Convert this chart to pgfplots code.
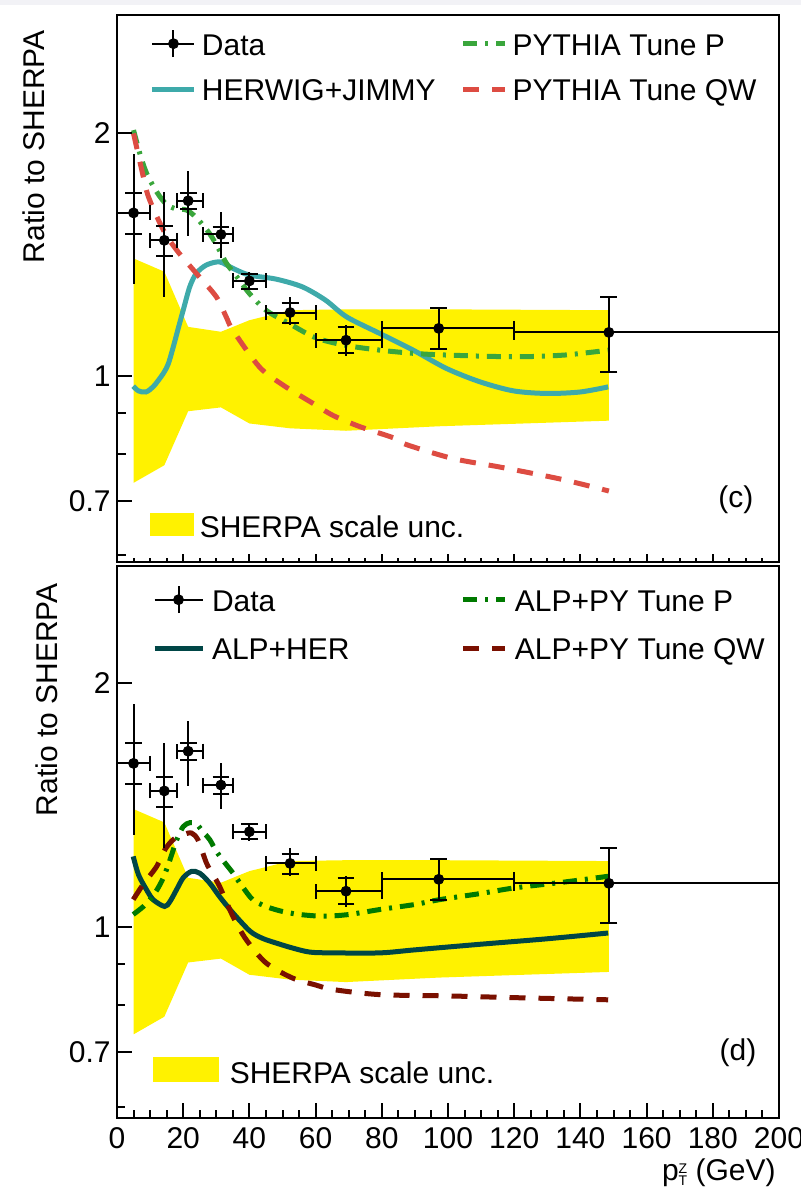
\documentclass[border=0pt]{standalone}
\usepackage{fontspec}
\setmainfont{Liberation Sans}
\usepackage{pgfplots}
\usepackage{pgfplotstable}
\pgfplotsset{compat=1.18}

\definecolor{herwig}{RGB}{62,170,170}
\definecolor{pytp}{RGB}{58,166,60}
\definecolor{pytqw}{RGB}{221,76,66}
\definecolor{alpher}{RGB}{0,70,70}
\definecolor{alpp}{RGB}{0,122,0}
\definecolor{alpqw}{RGB}{122,16,0}
\definecolor{edgegray}{RGB}{242,242,246}

% data: bin centre, ratio, x half-widths, stat (+,-), total (+,-)
\pgfplotstableread{
x y xm xp sp sm tp tm
5     1.592 5    5    0.094 0.091 0.294 0.293
14.3  1.472 4.3  3.7  0.061 0.065 0.216 0.221
21.5  1.648 3.5  4.5  0.038 0.040 0.147 0.157
31.4  1.497 5.4  3.6  0.033 0.038 0.097 0.099
40    1.311 5    5    0.028 0.028 0.033 0.033
52.3  1.198 7.3  7.7  0.034 0.035 0.055 0.042
69.2  1.107 9.2  10.8 0.041 0.041 0.049 0.049
97.2  1.145 17.2 22.8 0.069 0.066 0.069 0.066
148.6 1.132 28.6 51.4 0.121 0.120 0.121 0.120
}\datatab

% SHERPA scale band outline: upper edge forward, lower edge back
\pgfplotstableread{
x y
5     1.398
14.3  1.346
21.5  1.150
31.4  1.134
40    1.172
52.3  1.206
69.2  1.209
97.2  1.209
148.6 1.206
148.6 0.880
97.2  0.866
69.2  0.855
52.3  0.861
40    0.873
31.4  0.914
21.5  0.904
14.3  0.775
5     0.737
}\bandtab

\pgfplotstableread{
x y
4.9 0.971
6.5 0.958
8.7 0.955
11 0.970
14 1.007
15.5 1.035
17 1.086
18.5 1.145
20 1.206
22 1.290
24 1.340
27 1.372
31 1.384
35 1.359
40 1.333
48 1.318
56 1.289
63 1.241
69.4 1.183
79.5 1.128
89.5 1.076
99.6 1.021
109.7 0.983
119.8 0.958
129.9 0.951
139.9 0.955
148.4 0.969
}\herwigtab

\pgfplotstableread{
x y
5 2.016
7 1.880
9 1.780
12 1.690
15 1.630
18 1.610
21 1.605
24 1.570
28 1.500
31 1.430
33 1.380
36 1.330
40 1.265
45 1.206
52 1.161
60 1.115
69 1.091
79.5 1.076
90 1.066
100 1.061
120 1.056
135 1.061
148.4 1.076
}\pytptab

\pgfplotstableread{
x y
5 1.997
7.5 1.798
9.5 1.667
14 1.516
18 1.432
24 1.339
30 1.253
33 1.183
35 1.139
43 1.026
50 0.975
59.3 0.924
65.3 0.893
73.4 0.865
83.5 0.838
87.4 0.822
101.5 0.790
115.7 0.771
134 0.745
148.6 0.720
}\pytqwtab

\pgfplotstableread{
x y
4.9 1.222
6.5 1.160
8.9 1.112
11 1.080
14.4 1.060
16 1.075
18 1.112
20 1.150
22.5 1.171
25 1.165
28 1.133
31 1.090
35 1.041
40.2 0.988
44 0.968
48.2 0.955
53 0.942
58.3 0.931
65.3 0.929
79.5 0.929
90 0.937
109.7 0.952
130 0.967
148.4 0.983
}\alphertab

\pgfplotstableread{
x y
4.9 1.036
8 1.060
10 1.081
12 1.110
14 1.150
16 1.210
18 1.280
20 1.330
22 1.345
24 1.340
26 1.310
28 1.282
30 1.240
32.6 1.200
35 1.166
38 1.120
41 1.081
45 1.060
50 1.045
55.3 1.036
62.4 1.031
70 1.036
79.5 1.051
90 1.066
97.6 1.081
110 1.100
119.8 1.117
135 1.136
148.4 1.155
}\alpptab

\pgfplotstableread{
x y
4.9 1.081
8 1.130
12 1.188
14.5 1.246
17 1.282
20 1.300
22.5 1.306
24.5 1.280
27 1.200
29 1.160
31 1.122
35 1.031
39 0.965
45 0.903
53 0.865
60 0.848
65.3 0.837
79.5 0.825
100 0.822
120 0.818
148.4 0.813
}\alpqwtab

\newcommand{\fs}{\fontsize{15}{18}\selectfont}
\newcommand{\ptz}{p\rlap{\raisebox{3.4pt}{\fontsize{7}{8}\selectfont Z}}\raisebox{-2.6pt}{\fontsize{7}{8}\selectfont T}}

\begin{document}
\fs
\begin{tikzpicture}
\fill[edgegray] (-58.5pt,556.5pt) rectangle (342pt,559pt);
% ---------- top panel (c) ----------
\begin{axis}[
  scale only axis, width=331pt, height=273.5pt,
  at={(0,278pt)}, anchor=south west,
  xmin=0, xmax=200, ymode=log, ymin=0.588, ymax=2.80,
  xtick={0,20,40,60,80,100,120,140,160,180,200}, minor x tick num=3, xticklabels={},
  ytick={0.7,1,2}, yticklabels={0.7,1,2}, minor ytick={0.6,0.8,0.9},
  xtick pos=left, ytick pos=left, tick align=inside,
  major tick length=4pt, minor tick length=2pt,
  axis line style={line width=1.2pt},
  tick style={line width=1pt, black},
  yticklabel style={font=\fs, inner sep=3pt},
  ylabel={Ratio to SHERPA},
  ylabel style={font=\fs, at={(axis description cs:-0.1088,0.9726)}, anchor=base east, inner sep=0pt},
  legend columns=2, legend cell align=left,
  legend style={at={(axis description cs:0.0498,0.9653)}, anchor=north west,
    draw=none, fill=none, inner sep=0pt, outer sep=0pt, font=\fs, row sep=12pt,
    nodes={inner sep=0pt, text height=10.7pt, text depth=0pt},
    /tikz/every odd column/.append style={column sep=2.5pt},
    /tikz/every even column/.append style={column sep=12.5pt}},
]
\addplot[fill=yellow, draw=none, forget plot] table[x=x, y=y] {\bandtab};

\addplot[forget plot, herwig, line width=2.5pt, smooth] table[x=x,y=y] {\herwigtab};
\addplot[forget plot, pytp, line width=2.5pt, smooth, dash pattern=on 7pt off 4pt on 1.5pt off 4pt] table[x=x,y=y] {\pytptab};
\addplot[forget plot, pytqw, line width=2.5pt, smooth, dash pattern=on 8pt off 6.5pt] table[x=x,y=y] {\pytqwtab};

\addplot[forget plot, black, only marks, mark=none,
  error bars/.cd, x dir=both, x explicit,
  error bar style={line width=1pt, black},
  error mark options={rotate=90, mark size=3.75pt, line width=1pt, black}]
  table[x=x, y=y, x error plus=xp, x error minus=xm] {\datatab};
\addplot[forget plot, black, only marks, mark=none,
  error bars/.cd, y dir=both, y explicit, error mark=none,
  error bar style={line width=1pt, black}]
  table[x=x, y=y, y error plus=tp, y error minus=tm] {\datatab};
\addplot[forget plot, black, only marks, mark=*, mark size=2.5pt,
  error bars/.cd, y dir=both, y explicit,
  error bar style={line width=1pt, black},
  error mark options={rotate=90, mark size=4.2pt, line width=1pt, black}]
  table[x=x, y=y, y error plus=sp, y error minus=sm] {\datatab};

\addlegendimage{black, legend image code/.code={%
    \draw[black, line width=1pt, overlay] (0pt,0.5pt)--(21pt,0.5pt) (10.5pt,-6.2pt)--(10.5pt,7.2pt);
    \fill[black, overlay] (10.5pt,0.5pt) circle (2.5pt);
    \path (0pt,0.5pt) (21pt,0.5pt);}}
\addlegendentry{Data}
\addlegendimage{pytp, line width=2.5pt, dash pattern=on 7pt off 4pt on 1.5pt off 4pt,
  legend image code/.code={\draw[overlay] (0pt,0.5pt)--(21pt,0.5pt); \path (0pt,0.5pt) (21pt,0.5pt);}}
\addlegendentry{PYTHIA Tune P}
\addlegendimage{herwig, line width=2.5pt,
  legend image code/.code={\draw[overlay] (0pt,0.5pt)--(21pt,0.5pt); \path (0pt,0.5pt) (21pt,0.5pt);}}
\addlegendentry{HERWIG+JIMMY}
\addlegendimage{pytqw, line width=2.5pt, dash pattern=on 8pt off 6.5pt,
  legend image code/.code={\draw[overlay] (0pt,0.5pt)--(21pt,0.5pt); \path (0pt,0.5pt) (21pt,0.5pt);}}
\addlegendentry{PYTHIA Tune QW}

\node[inner sep=0pt, font=\fs] at (axis description cs:0.935,0.1133) {(c)};
\end{axis}

% longer y ticks of the top panel
\begin{axis}[
  scale only axis, width=331pt, height=273.5pt,
  at={(0,278pt)}, anchor=south west,
  xmin=0, xmax=200, ymode=log, ymin=0.588, ymax=2.80,
  hide x axis, axis y line*=left,
  ytick={0.7,1,2}, yticklabels={}, minor ytick={0.6,0.8,0.9},
  tick align=inside, major tick length=7.5pt, minor tick length=4.5pt,
  axis line style={line width=1.2pt, -},
  tick style={line width=1pt, black},
]
\end{axis}

\begin{axis}[at={(0,278pt)}, anchor=south west, scale only axis, width=331pt, height=273.5pt,
  hide axis, xmin=0, xmax=1, ymin=0, ymax=1, legend cell align=left,
  legend style={at={(axis description cs:0.0498,0.0896)}, anchor=north west,
    draw=none, fill=none, inner sep=0pt, outer sep=0pt, font=\fs,
    nodes={inner sep=0pt, text height=10.7pt, text depth=0pt},
    /tikz/every odd column/.append style={column sep=3pt}}]
\addlegendimage{legend image code/.code={\fill[yellow] (0pt,-4.5pt) rectangle (21.5pt,6.5pt);}}
\addlegendentry{SHERPA scale unc.}
\end{axis}

% ---------- bottom panel (d) ----------
\begin{axis}[
  scale only axis, width=331pt, height=276pt,
  at={(0,0)}, anchor=south west,
  xmin=0, xmax=200, ymode=log, ymin=0.581, ymax=2.79,
  xtick={0,20,40,60,80,100,120,140,160,180,200}, minor x tick num=3,
  xticklabels={0,20,40,60,80,100,120,140,160,180,200},
  ytick={0.7,1,2}, yticklabels={0.7,1,2}, minor ytick={0.6,0.8,0.9},
  xtick pos=left, ytick pos=left, tick align=inside,
  major tick length=7.5pt, minor tick length=4pt,
  axis line style={line width=1.2pt},
  tick style={line width=1pt, black},
  yticklabel style={font=\fs, inner sep=3pt},
  xticklabel style={font=\fs, inner sep=4.5pt},
  xlabel={\ptz\ (GeV)},
  xlabel style={font=\fs, at={(axis description cs:1,0)}, anchor=base east, inner sep=0pt, yshift=-31pt, xshift=-1.5pt},
  ylabel={Ratio to SHERPA},
  ylabel style={font=\fs, at={(axis description cs:-0.0906,0.9692)}, anchor=base east, inner sep=0pt},
  legend columns=2, legend cell align=left,
  legend style={at={(axis description cs:0.0529,0.9565)}, anchor=north west,
    draw=none, fill=none, inner sep=0pt, outer sep=0pt, font=\fs, row sep=13.5pt,
    nodes={inner sep=0pt, text height=10.7pt, text depth=0pt},
    /tikz/every odd column/.append style={column sep=3.5pt},
    /tikz/every even column/.append style={column sep=55.7pt}},
]
\addplot[fill=yellow, draw=none, forget plot] table[x=x, y=y] {\bandtab};

\addplot[forget plot, alpher, line width=2.5pt, smooth] table[x=x,y=y] {\alphertab};
\addplot[forget plot, alpp, line width=2.5pt, smooth, dash pattern=on 7pt off 4pt on 1.5pt off 4pt] table[x=x,y=y] {\alpptab};
\addplot[forget plot, alpqw, line width=2.5pt, smooth, dash pattern=on 8pt off 6.5pt] table[x=x,y=y] {\alpqwtab};

\addplot[forget plot, black, only marks, mark=none,
  error bars/.cd, x dir=both, x explicit,
  error bar style={line width=1pt, black},
  error mark options={rotate=90, mark size=3.75pt, line width=1pt, black}]
  table[x=x, y=y, x error plus=xp, x error minus=xm] {\datatab};
\addplot[forget plot, black, only marks, mark=none,
  error bars/.cd, y dir=both, y explicit, error mark=none,
  error bar style={line width=1pt, black}]
  table[x=x, y=y, y error plus=tp, y error minus=tm] {\datatab};
\addplot[forget plot, black, only marks, mark=*, mark size=2.5pt,
  error bars/.cd, y dir=both, y explicit,
  error bar style={line width=1pt, black},
  error mark options={rotate=90, mark size=4.2pt, line width=1pt, black}]
  table[x=x, y=y, y error plus=sp, y error minus=sm] {\datatab};

\addlegendimage{black, legend image code/.code={%
    \draw[black, line width=1pt, overlay] (0pt,0.5pt)--(24pt,0.5pt) (12pt,-6.2pt)--(12pt,7.2pt);
    \fill[black, overlay] (12pt,0.5pt) circle (2.5pt);
    \path (0pt,0.5pt) (24pt,0.5pt);}}
\addlegendentry{Data}
\addlegendimage{alpp, line width=2.5pt, dash pattern=on 7pt off 4pt on 1.5pt off 4pt,
  legend image code/.code={\draw[overlay] (0pt,0.5pt)--(21pt,0.5pt); \path (0pt,0.5pt) (21pt,0.5pt);}}
\addlegendentry{ALP+PY Tune P}
\addlegendimage{alpher, line width=2.5pt,
  legend image code/.code={\draw[overlay] (0pt,0.5pt)--(24pt,0.5pt); \path (0pt,0.5pt) (24pt,0.5pt);}}
\addlegendentry{ALP+HER}
\addlegendimage{alpqw, line width=2.5pt, dash pattern=on 8pt off 6.5pt,
  legend image code/.code={\draw[overlay] (0pt,0.5pt)--(21pt,0.5pt); \path (0pt,0.5pt) (21pt,0.5pt);}}
\addlegendentry{ALP+PY Tune QW}

\node[inner sep=0pt, font=\fs] at (axis description cs:0.938,0.1178) {(d)};
\end{axis}

\begin{axis}[at={(0,0)}, anchor=south west, scale only axis, width=331pt, height=276pt,
  hide axis, xmin=0, xmax=1, ymin=0, ymax=1, legend cell align=left,
  legend style={at={(axis description cs:0.0544,0.1105)}, anchor=north west,
    draw=none, fill=none, inner sep=0pt, outer sep=0pt, font=\fs,
    nodes={inner sep=0pt, text height=10.7pt, text depth=0pt},
    /tikz/every odd column/.append style={column sep=5.5pt}}]
\addlegendimage{legend image code/.code={\fill[yellow] (0pt,-4.5pt) rectangle (32.5pt,7.5pt);}}
\addlegendentry{SHERPA scale unc.}
\end{axis}

\pgfresetboundingbox
\useasboundingbox (-58.5pt,-34.5pt) rectangle (342pt,559pt);
\end{tikzpicture}
\end{document}
